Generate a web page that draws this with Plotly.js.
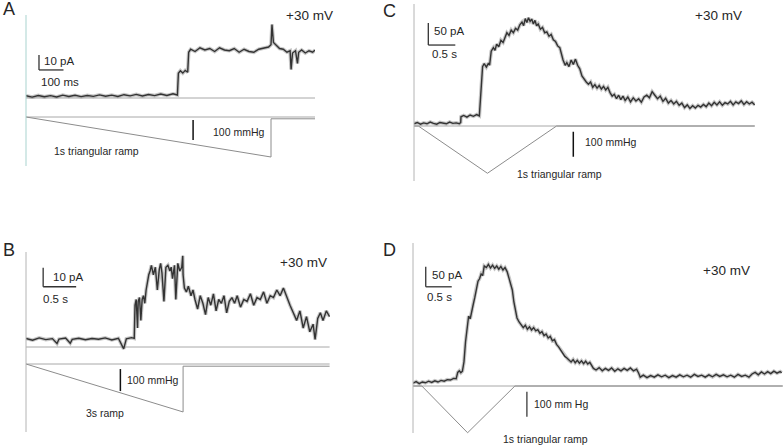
<!DOCTYPE html>
<html><head><meta charset="utf-8">
<script src="https://cdn.plot.ly/plotly-3.0.1.min.js"></script>
<style>html,body{margin:0;padding:0;background:#fff}#chart{width:783px;height:445px}</style>
</head><body><div id="chart"></div>
<script>
// ---------- Panel A (time s, current pA, pressure mmHg) ----------
const A_time = [0,.025,.05,.075,.1,.125,.15,.175,.2,.225,.25,.275,.3,.325,.35,.375,.4,.425,.45,.475,.5,.525,.55,.575,.6,.618,
  .622,.63,.64,.65,.66,
  .664,.672,.69,.71,.73,.75,.77,.79,.81,.83,.85,.87,.89,.91,.93,.95,.97,.99,1.0,1.004,1.01,1.02,1.035,1.05,1.065,1.078,1.082,1.088,1.1,1.108,1.113,1.125,1.14,1.155,1.17,1.18];
const A_current = [1.5,0.6,1.7,0.8,1.6,0.7,1.9,1.0,1.8,0.9,1.7,1.1,2.1,1.2,1.9,1.0,2.2,1.4,2.4,1.3,2.3,1.6,2.7,1.7,2.8,2.0,
  16.5,18.2,16.6,18.4,17.2,
  30.5,32.5,31.0,33.5,32.0,33.0,31.0,33.5,32.0,31.5,33.0,30.5,32.5,31.0,30.5,32.5,33.5,34.0,35.5,49.0,37.0,35.5,33.0,32.5,30.5,31.5,19.0,30.0,31.5,23.0,30.5,32.0,30.0,31.5,30.5,32.0];
const A_pTime = [0,1.0,1.0,1.18];
const A_pressure = [0,-200,-9,-9];
const A_end = 1.18;

// ---------- Panel B ----------
const B_time = [0,.1,.2,.3,.4,.47,.5,.6,.67,.7,.8,.9,1.0,1.1,1.2,1.3,1.4,1.48,1.52,1.6,1.64,
  1.652,1.67,1.69,1.70,1.72,1.74,1.76,1.78,1.80,1.82,1.84,1.86,
  1.88,1.90,1.93,1.96,1.99,2.02,2.04,2.06,2.09,2.12,2.15,2.18,2.20,2.22,2.25,2.27,2.30,2.33,2.36,2.375,2.38,
  2.40,2.43,2.46,2.50,2.53,
  2.56,2.60,2.64,2.68,2.72,2.76,2.80,2.84,2.88,2.92,2.96,3.00,3.04,3.08,3.12,
  3.16,3.20,3.25,3.30,3.35,3.40,3.45,3.50,3.55,3.60,3.65,3.70,3.75,3.80,3.85,3.90,3.95,4.00,
  4.05,4.10,4.15,4.20,4.25,4.30,4.35,4.38,4.42,4.46,4.50,4.55,4.60];
const B_current = [4.5,3.6,4.8,3.9,4.4,1.8,4.2,4.7,2.0,4.0,4.6,3.8,4.5,4.1,4.8,3.7,4.6,-1.0,4.3,4.9,4.5,
  22,25,10,24,26,14,25,27,23,30,35,38,
  40,43,38,42,30,41,44,39,24,42,43,40,42,36,43,25,44,40,42,48,38,
  31,29,32,27,30,
  25,20,27,23,17,26,22,28,19,25,23,27,18,24,26,
  23,27,21,25,24,28,22,26,25,29,23,27,26,30,27,31,26,22,
  18,14,19,10,16,8,12,4,15,18,14,19,16];
const B_pTime = [0,2.38,2.38,4.6];
const B_pressure = [0,-218,-10,-10];
const B_end = 4.6;

// ---------- Panel C ----------
const C_time = [0,.06,.12,.18,.24,.30,.36,.42,.48,.54,.60,.66,.72,.78,.84,.865,
  .87,.92,.98,1.04,1.10,1.16,1.21,
  1.23,1.25,1.27,1.30,1.34,1.38,1.40,
  1.43,1.47,1.50,1.53,1.57,1.61,1.65,1.69,1.72,1.76,1.80,1.84,1.88,1.92,1.96,2.00,
  2.03,2.06,2.09,2.12,2.15,2.18,2.21,2.24,2.27,2.30,2.34,2.38,2.42,2.46,2.50,2.54,
  2.58,2.62,2.66,2.70,2.73,2.76,2.80,2.83,2.87,2.91,2.95,2.99,3.03,3.07,3.11,3.15,
  3.19,3.23,3.27,3.31,3.35,3.39,3.43,3.47,3.51,3.55,3.59,3.63,3.67,3.71,3.75,3.79,
  3.83,3.87,3.91,3.96,4.01,4.06,4.11,4.16,4.21,4.26,4.31,4.36,4.41,4.46,4.51,4.56,
  4.61,4.66,4.71,4.76,4.81,4.86,4.91,4.96,5.01,5.06,5.11,5.16,5.21,5.26,5.31,5.36,
  5.41,5.46,5.51,5.56,5.61,5.66,5.71,5.76,5.81,5.86,5.91,5.96,6.01,6.06,6.11,6.16,6.21,6.26,6.31];
const C_current = [5,8,4,7,5,9,6,4,8,6,5,9,6,7,5,8,
  21,24,20,25,22,26,23,
  60,100,135,142,134,143,138,
  170,178,172,186,180,195,190,205,212,206,218,212,222,218,230,236,
  228,244,235,246,238,243,232,240,228,232,220,224,212,214,204,208,
  196,192,182,178,160,150,138,144,135,150,140,152,138,130,114,106,
  100,95,100,88,94,86,92,84,90,82,88,76,68,72,62,70,
  60,68,58,66,55,64,57,62,54,66,70,64,78,70,62,68,
  56,63,52,58,50,56,47,52,42,48,40,46,41,47,43,49,
  44,52,46,54,48,55,47,53,50,56,48,55,51,57,49,55,50,54,48];
const C_pTime = [0,0.08,1.36,2.64,6.31];
const C_pressure = [0,0,-189,0,0];
const C_end = 6.31;

// ---------- Panel D ----------
const D_time = [0,.06,.12,.18,.24,.30,.36,.42,.48,.54,.60,.66,.72,.78,.83,
  .86,.89,.92,.95,
  .98,1.01,1.04,1.07,1.10,1.13,1.16,1.19,1.22,1.25,1.28,1.31,1.34,1.37,
  1.41,1.45,1.49,1.53,1.57,1.61,1.65,1.69,1.73,1.77,1.81,1.85,1.88,1.91,1.94,1.97,2.00,
  2.04,2.08,2.12,2.16,2.20,2.24,2.28,2.32,2.36,2.40,2.44,2.48,2.52,2.56,2.60,2.64,2.68,2.72,
  2.76,2.80,2.84,2.88,2.92,2.96,3.00,3.04,3.08,3.12,3.16,3.20,3.24,3.28,3.32,3.36,3.40,3.44,
  3.47,3.52,3.58,3.64,3.70,3.76,3.82,3.88,3.94,4.00,4.06,4.12,4.18,4.24,4.30,4.34,
  4.37,4.43,4.50,4.57,4.64,4.71,4.78,4.85,4.92,4.99,5.06,5.13,5.20,5.27,5.34,5.41,5.48,5.55,
  5.62,5.69,5.76,5.83,5.90,5.97,6.04,6.11,6.18,6.25,6.32,6.39,6.46,6.52,6.58,6.64,6.70,6.76,6.82,6.88,6.94,7.00,7.06,7.09];
const D_current = [7,11,6,10,8,12,9,13,10,14,12,16,15,19,18,
  34,38,33,37,
  60,110,150,175,168,190,205,222,245,262,268,280,276,300,
  296,304,295,302,294,300,292,299,290,296,286,270,255,240,210,188,170,
  160,152,146,152,142,148,140,146,138,141,132,136,126,130,120,124,113,116,
  104,98,90,82,74,70,64,60,66,58,64,57,63,56,62,55,59,52,
  44,40,46,38,44,39,45,37,43,38,44,39,45,38,42,32,
  22,27,21,26,22,28,23,27,21,26,22,28,23,27,22,29,24,27,
  22,28,23,29,24,28,23,27,22,29,24,27,22,30,34,28,35,30,36,31,37,32,36,33];
const D_pTime = [0,0.17,1.05,1.96,7.11];
const D_pressure = [0,0,-187,0,0];
const D_end = 7.11;

// ---------- Labels ----------
const panelLetters = ['A','B','C','D'];
const voltageLabel = '+30 mV';
const currentBarLabels = ['10 pA','10 pA','50 pA','50 pA'];
const timeBarLabels = ['100 ms','0.5 s','0.5 s','0.5 s'];
const pressureBarLabels = ['100 mmHg','100 mmHg','100 mmHg','100 mm Hg'];
const protocolLabels = ['1s triangular ramp','3s ramp','1s triangular ramp','1s triangular ramp'];

// ---------- Layout helpers (pixel geometry) ----------
const W = 783, H = 445;
function xax(x0, x1, pps, anchor){
  return {domain:[x0/W, x1/W], range:[0, (x1-x0)/pps], visible:false, fixedrange:true, anchor:anchor};
}
function yax(top, bot, zero, ppu, anchor){
  return {domain:[1-bot/H, 1-top/H], range:[(zero-bot)/ppu, (zero-top)/ppu], visible:false, fixedrange:true, anchor:anchor};
}
const FONT = 'Liberation Sans, Arial, sans-serif';
function ann(text, px, py, size, color){
  return {text:text, x:px/W, y:1-py/H, xref:'paper', yref:'paper', xanchor:'left', yanchor:'middle',
          showarrow:false, font:{family:FONT, size:size, color:color||'#262626'}};
}
function vline(px, y0, y1, color){
  return {type:'line', xref:'paper', yref:'paper', x0:px/W, x1:px/W, y0:1-y0/H, y1:1-y1/H,
          line:{color:color, width:1}};
}
function seg(xr, yr, x0, x1, y0, y1, color, width){
  return {type:'line', xref:xr, yref:yr, x0:x0, x1:x1, y0:y0, y1:y1, line:{color:color, width:width}};
}

const TRACE = '#333333', HALO = 'rgba(130,130,130,0.45)', ZERO = '#a8a8a8', PRESS = '#8c8c8c';
function line(x, y, xa, ya, color, width){
  return {x:x, y:y, xaxis:xa, yaxis:ya, type:'scatter', mode:'lines', hoverinfo:'skip',
          line:{color:color, width:width}};
}
function recording(x, y, xa, ya){
  return [line(x, y, xa, ya, HALO, 3.6), line(x, y, xa, ya, TRACE, 1.4)];
}

const data = [].concat(
  // A
  [line([0, A_end], [0, 0], 'x', 'y', ZERO, 1)],
  recording(A_time, A_current, 'x', 'y'),
  [line([0, A_end], [0, 0], 'x', 'y2', ZERO, 1),
   line(A_pTime, A_pressure, 'x', 'y2', PRESS, 1)],
  // B
  [line([0, B_end], [0, 0], 'x2', 'y3', ZERO, 1)],
  recording(B_time, B_current, 'x2', 'y3'),
  [line([0, B_end], [0, 0], 'x2', 'y4', ZERO, 1),
   line(B_pTime, B_pressure, 'x2', 'y4', PRESS, 1)],
  // C
  [line([0, C_end], [0, 0], 'x3', 'y5', ZERO, 1)],
  recording(C_time, C_current, 'x3', 'y5'),
  [line(C_pTime, C_pressure, 'x3', 'y6', PRESS, 1)],
  // D
  [line([0, D_end], [0, 0], 'x4', 'y7', ZERO, 1)],
  recording(D_time, D_current, 'x4', 'y7'),
  [line(D_pTime, D_pressure, 'x4', 'y8', PRESS, 1)]
);

const layout = {
  width: W, height: H, margin:{l:0, r:0, t:0, b:0},
  paper_bgcolor:'#ffffff', plot_bgcolor:'rgba(0,0,0,0)', showlegend:false,
  xaxis:  xax(26, 315, 245, 'y'),
  yaxis:  yax(10, 110, 98, 1.5, 'x'),
  yaxis2: yax(105, 170, 117, 0.2, 'x'),
  xaxis2: xax(26, 330, 66, 'y3'),
  yaxis3: yax(245, 355, 347, 1.9, 'x2'),
  yaxis4: yax(355, 420, 364, 0.22, 'x2'),
  xaxis3: xax(414, 755, 54, 'y5'),
  yaxis5: yax(5, 130, 126, 0.44, 'x3'),
  yaxis6: yax(120, 185, 126, 0.25, 'x3'),
  xaxis4: xax(413, 783, 52, 'y7'),
  yaxis7: yax(240, 390, 386, 0.4, 'x4'),
  yaxis8: yax(380, 440, 386, 0.25, 'x4'),
  shapes: [
    vline(26, 15, 166, '#a9d3cf'),
    vline(26, 252, 432, '#b4b4b4'),
    vline(414, 4, 181, '#b4b4b4'),
    vline(413, 243, 433, '#b4b4b4'),
    // A scale bars
    seg('x','y', 0.053, 0.053, 18.7, 28.7, '#333', 1.3),
    seg('x','y', 0.053, 0.153, 18.7, 18.7, '#333', 1.3),
    seg('x','y2', 0.682, 0.682, -15, -115, '#111', 1.5),
    // B scale bars
    seg('x2','y3', 0.26, 0.26, 31.7, 41.7, '#333', 1.3),
    seg('x2','y3', 0.26, 0.76, 31.7, 31.7, '#333', 1.3),
    seg('x2','y4', 1.43, 1.43, -23, -123, '#111', 1.5),
    // C scale bars
    seg('x3','y5', 0.265, 0.265, 184, 234, '#333', 1.3),
    seg('x3','y5', 0.265, 0.765, 184, 184, '#333', 1.3),
    seg('x3','y6', 2.95, 2.95, -23, -123, '#111', 1.5),
    // D scale bars
    seg('x4','y7', 0.245, 0.245, 248, 298, '#333', 1.3),
    seg('x4','y7', 0.245, 0.745, 248, 248, '#333', 1.3),
    seg('x4','y8', 2.19, 2.19, -23, -123, '#555', 1.5)
  ],
  annotations: [
    ann(panelLetters[0], 1, 9, 18), ann(panelLetters[1], 1, 250, 18),
    ann(panelLetters[2], 381, 11, 18), ann(panelLetters[3], 381, 250, 18),
    ann(voltageLabel, 284, 16, 13.5), ann(voltageLabel, 278, 262, 13.5),
    ann(voltageLabel, 693, 16, 13.5), ann(voltageLabel, 701, 270, 13.5),
    ann(currentBarLabels[0], 42, 61, 11.5), ann(timeBarLabels[0], 39, 82, 11.5),
    ann(currentBarLabels[1], 51, 277, 11.5), ann(timeBarLabels[1], 41, 299, 11.5),
    ann(currentBarLabels[2], 432, 31, 11.5), ann(timeBarLabels[2], 430, 54, 11.5),
    ann(currentBarLabels[3], 430, 275, 11.5), ann(timeBarLabels[3], 425, 297, 11.5),
    ann(pressureBarLabels[0], 211, 132, 10.5), ann(pressureBarLabels[1], 125, 380, 10.5),
    ann(pressureBarLabels[2], 583, 142, 10.5), ann(pressureBarLabels[3], 532, 404, 10.5),
    ann(protocolLabels[0], 52, 151, 10.5), ann(protocolLabels[1], 84, 413, 10.5),
    ann(protocolLabels[2], 515, 174, 10.5), ann(protocolLabels[3], 501, 439, 10.5)
  ]
};

Plotly.newPlot('chart', data, layout, {staticPlot:true, displayModeBar:false});
</script>
</body></html>
